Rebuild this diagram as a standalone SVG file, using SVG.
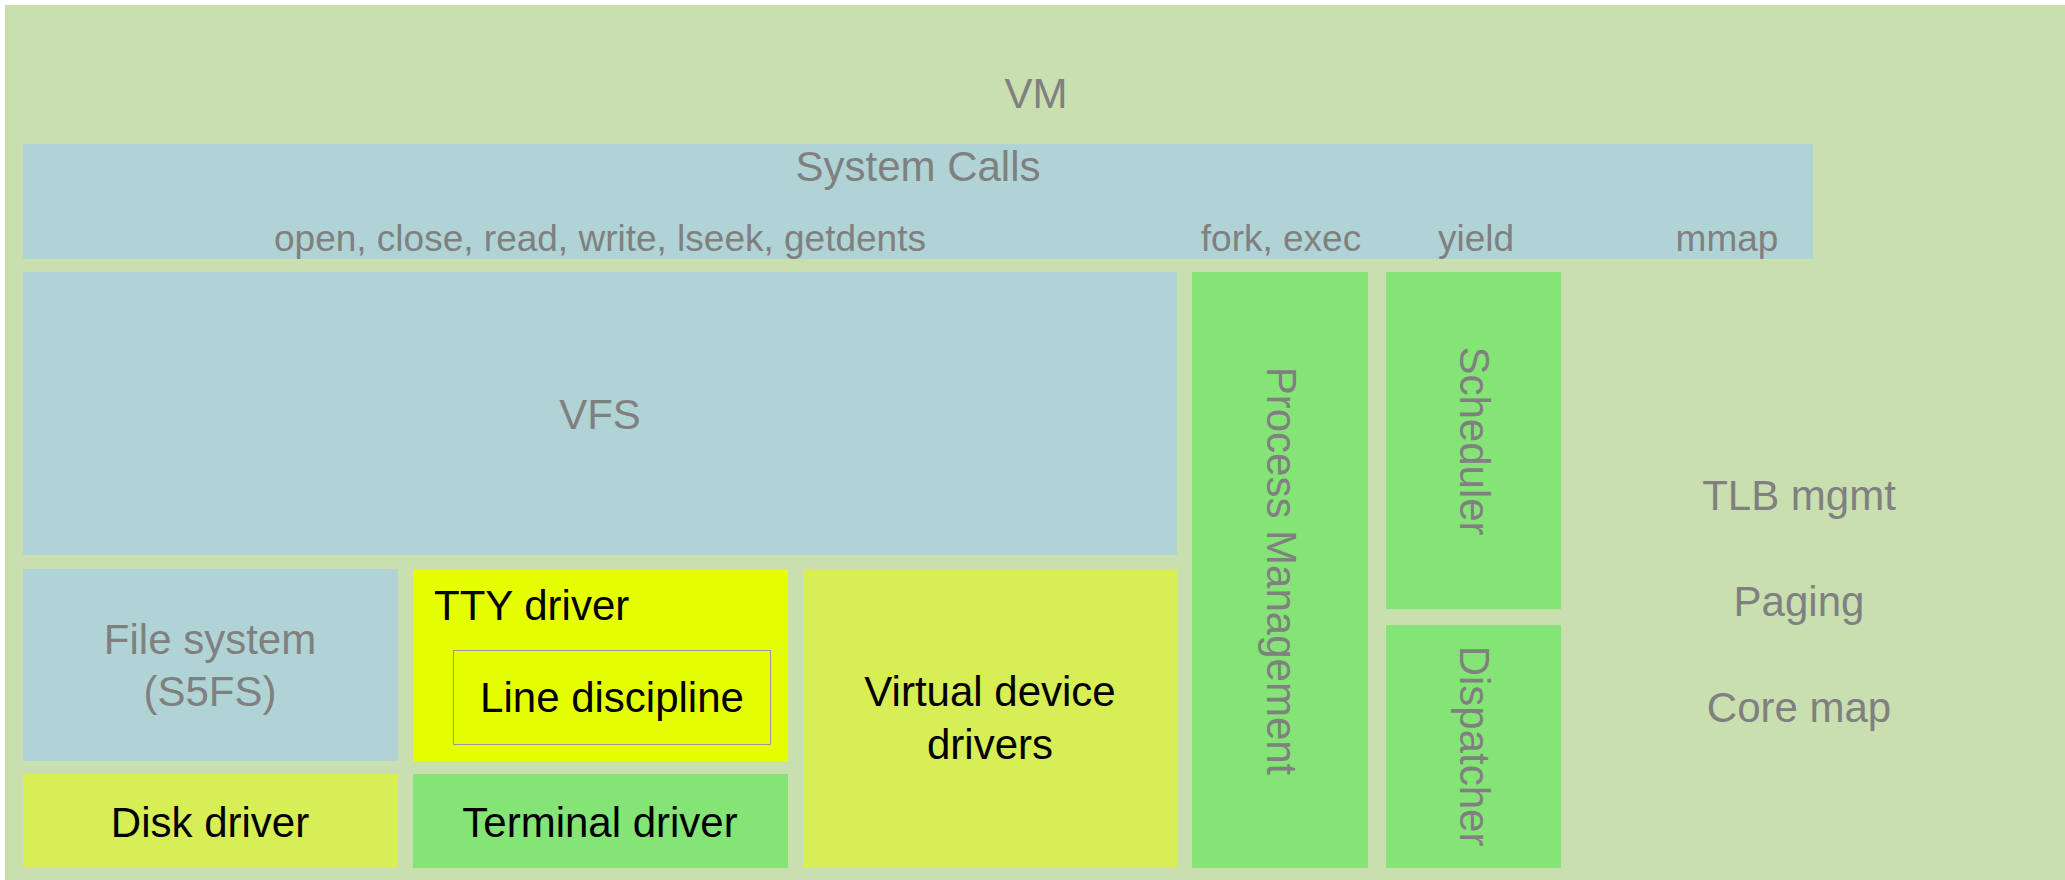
<svg xmlns="http://www.w3.org/2000/svg" width="2065" height="880" viewBox="0 0 2065 880">
<style>
  text { font-family: "Liberation Sans", Arial, sans-serif; font-size: 42px; }
  .g { fill: #808080; }
  .k { fill: #000000; }
  .m { text-anchor: middle; }
  .s { font-size: 37px; }
  .vm { fill: #c9dfb0; }
  .blue { fill: #b0d4d6; }
  .green { fill: #84e476; }
  .yel { fill: #e5ff00; }
  .yg { fill: #d7ee55; }
</style>
<rect x="0" y="0" width="2065" height="880" fill="#ffffff"/>
<g id="vm">
  <rect class="vm" x="5" y="5" width="2060" height="875"/>
  <text class="g m" x="1036" y="108">VM</text>
  <text class="g m" x="1799" y="510">TLB mgmt</text>
  <text class="g m" x="1799" y="616">Paging</text>
  <text class="g m" x="1799" y="722">Core map</text>
</g>
<g id="syscalls">
  <rect class="blue" x="23" y="144" width="1790" height="115"/>
  <text class="g m" x="918" y="181">System Calls</text>
  <text class="g m s" x="600" y="251">open, close, read, write, lseek, getdents</text>
  <text class="g m s" x="1281" y="251">fork, exec</text>
  <text class="g m s" x="1476" y="251">yield</text>
  <text class="g m s" x="1727" y="251">mmap</text>
</g>
<g id="vfs">
  <rect class="blue" x="23" y="272" width="1154" height="283"/>
  <text class="g m" x="600" y="429">VFS</text>
</g>
<g id="filesystem">
  <rect class="blue" x="23" y="569" width="375" height="192"/>
  <text class="g m" x="210" y="654">File system</text>
  <text class="g m" x="210" y="706">(S5FS)</text>
</g>
<g id="tty">
  <rect class="yel" x="413" y="569" width="375" height="192"/>
  <text class="k" x="434" y="620">TTY driver</text>
</g>
<g id="linediscipline">
  <rect class="yel" x="453.5" y="650.5" width="317" height="94" stroke="#999999" stroke-width="1"/>
  <text class="k m" x="612" y="712">Line discipline</text>
</g>
<g id="virtual">
  <rect class="yg" x="803" y="569" width="374" height="299"/>
  <text class="k m" x="990" y="706">Virtual device</text>
  <text class="k m" x="990" y="759">drivers</text>
</g>
<g id="disk">
  <rect class="yg" x="23" y="774" width="375" height="94"/>
  <text class="k m" x="210" y="837">Disk driver</text>
</g>
<g id="terminal">
  <rect class="green" x="413" y="774" width="375" height="94"/>
  <text class="k m" x="600" y="837">Terminal driver</text>
</g>
<g id="process">
  <rect class="green" x="1192" y="272" width="176" height="596"/>
  <text class="g m" transform="translate(1267 571) rotate(90)" x="0" y="0">Process Management</text>
</g>
<g id="scheduler">
  <rect class="green" x="1386" y="272" width="175" height="337"/>
  <text class="g m" transform="translate(1460 441) rotate(90)" x="0" y="0">Scheduler</text>
</g>
<g id="dispatcher">
  <rect class="green" x="1386" y="625" width="175" height="243"/>
  <text class="g m" transform="translate(1460 746) rotate(90)" x="0" y="0">Dispatcher</text>
</g>
<g id="connectors"></g>
</svg>
